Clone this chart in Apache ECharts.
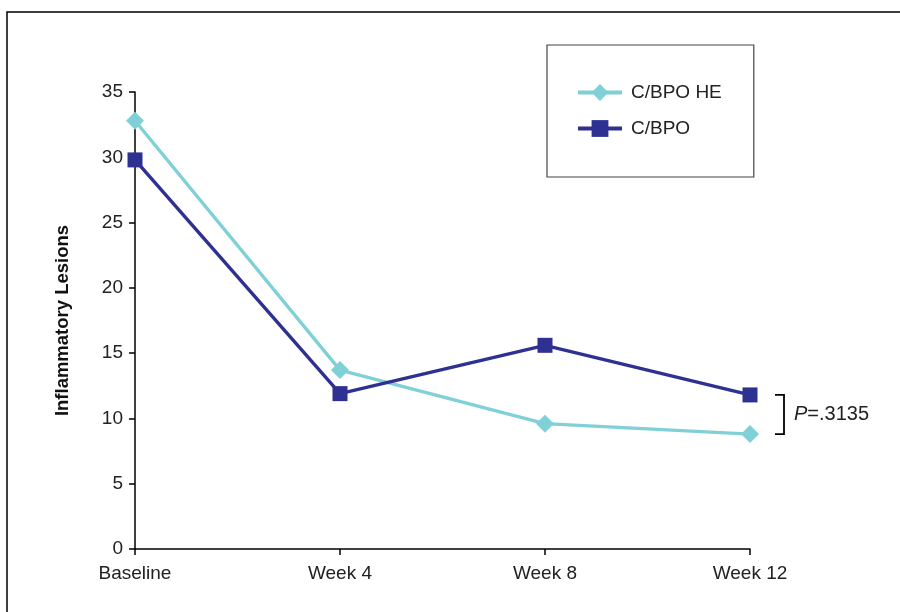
<!DOCTYPE html>
<html><head><meta charset="utf-8">
<script src="https://cdn.jsdelivr.net/npm/echarts@6/dist/echarts.min.js"></script>
<style>html,body{margin:0;padding:0;background:#fff}#c{width:900px;height:612px}</style>
</head><body><div id="c"></div>
<script>
const categories = ['Baseline', 'Week 4', 'Week 8', 'Week 12'];
const seriesNames = ['C/BPO HE', 'C/BPO'];
const heValues = [32.8, 13.7, 9.6, 8.8];
const bpoValues = [29.8, 11.9, 15.6, 11.8];
const yTicks = [0, 5, 10, 15, 20, 25, 30, 35];
const yLabel = 'Inflammatory Lesions';
const pText = '.3135';

const FONT = '"Liberation Sans", Arial, sans-serif';
const chart = echarts.init(document.getElementById('c'), null, {renderer: 'canvas'});
const opt = {
  backgroundColor: '#fff',
  animation: false,
  grid: {left: 135, right: 150, top: 92, bottom: 63, containLabel: false},
  legend: {
    orient: 'vertical', left: 547, top: 45,
    data: seriesNames,
    padding: [38, 32, 39, 29],
    itemGap: 17, itemWidth: 44, itemHeight: 21,
    borderColor: '#444', borderWidth: 1.2,
    lineStyle: {width: 4},
    textStyle: {fontFamily: FONT, fontSize: 19, color: '#222', padding: [0, 0, 0, 4]}
  },
  xAxis: {
    type: 'category', data: categories, boundaryGap: false,
    axisLine: {lineStyle: {color: '#000', width: 1.5}},
    axisTick: {show: true, length: 6, lineStyle: {color: '#000', width: 1.5}},
    axisLabel: {fontFamily: FONT, fontSize: 19, color: '#222', margin: 15}
  },
  yAxis: {
    type: 'value', min: yTicks[0], max: yTicks[yTicks.length - 1], interval: 5,
    name: yLabel, nameLocation: 'middle', nameGap: 63, nameRotate: 90,
    nameTextStyle: {fontFamily: FONT, fontSize: 18.5, fontWeight: 'bold', color: '#111'},
    axisLine: {show: true, lineStyle: {color: '#000', width: 1.5}},
    axisTick: {show: true, length: 6, lineStyle: {color: '#000', width: 1.5}},
    splitLine: {show: false},
    axisLabel: {fontFamily: FONT, fontSize: 19, color: '#222', margin: 12}
  },
  series: [
    {name: seriesNames[0], type: 'line', data: heValues, symbol: 'diamond', symbolSize: 18,
     color: '#80d0d8', lineStyle: {width: 3.4}, itemStyle: {color: '#80d0d8'}},
    {name: seriesNames[1], type: 'line', data: bpoValues, symbol: 'rect', symbolSize: 15,
     color: '#2e3192', lineStyle: {width: 3.4}, itemStyle: {color: '#2e3192'}}
  ]
};
chart.setOption(opt);

const pTop = chart.convertToPixel({xAxisIndex: 0, yAxisIndex: 0}, [3, bpoValues[3]]);
const pBot = chart.convertToPixel({xAxisIndex: 0, yAxisIndex: 0}, [3, heValues[3]]);
const bx = pTop[0] + 34;
chart.setOption({
  graphic: [
    {type: 'rect', shape: {x: 7, y: 12, width: 920, height: 640}, style: {fill: null, stroke: '#000', lineWidth: 1.5}, silent: true},
    {type: 'polyline', shape: {points: [[bx - 9, pTop[1]], [bx, pTop[1]], [bx, pBot[1]], [bx - 9, pBot[1]]]},
     style: {fill: null, stroke: '#000', lineWidth: 1.8}},
    {type: 'text', x: bx + 10, y: (pTop[1] + pBot[1]) / 2, style: {
      text: '{i|P}=' + pText, verticalAlign: 'middle', fontFamily: FONT, fontSize: 20, fill: '#222',
      rich: {i: {fontStyle: 'italic', fontFamily: FONT, fontSize: 20, fill: '#222'}}}}
  ]
});
</script></body></html>
